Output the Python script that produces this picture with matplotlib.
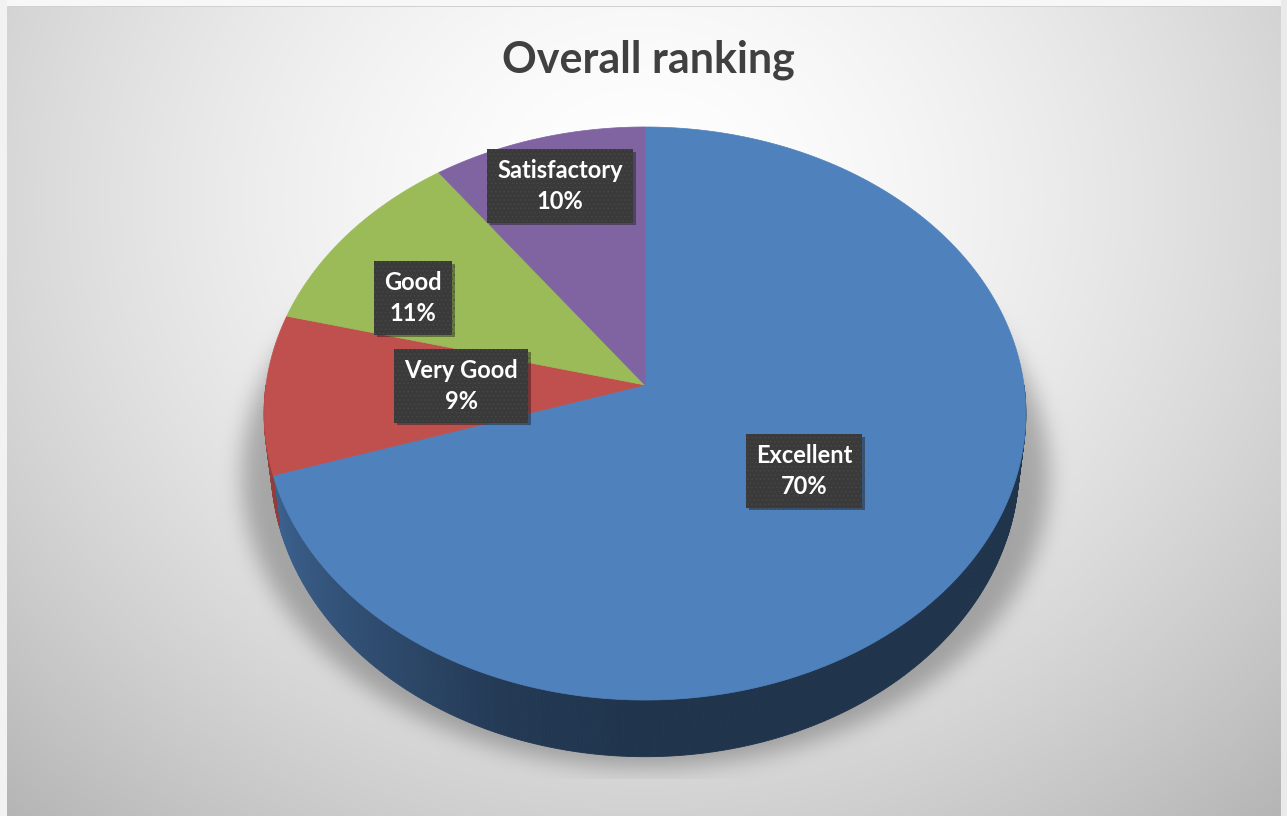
import numpy as np
import matplotlib
matplotlib.use("Agg")
import matplotlib.pyplot as plt
import matplotlib.patheffects as pe
from matplotlib.path import Path
from matplotlib.patches import Polygon

# data
categories = ["Excellent", "Very Good", "Good", "Satisfactory"]
values = [70, 9, 11, 10]
colors = ["#4f81bd", "#c0504d", "#9bbb59", "#8064a2"]
title = "Overall ranking"

# label box centres (pixels)
label_xy = [(804, 471), (461, 386), (413, 298), (560, 186)]

W, H = 1287, 816
cx, cy = 645, 385       # pie apex in pixels
S, Sy = 379, 283.7      # radii of the tilted disc
q = 10.05               # perspective strength
depth = 51              # thickness of the pie
shrink = 0.982          # bottom face is a little farther away


def proj(r, theta, drop=0.0, sc=1.0):
    t = np.radians(theta)
    x = r * np.sin(t)
    z = r * np.cos(t)
    w = 1 + z / q
    return cx + sc * S * x / w, cy - Sy * z / w + drop / w


plt.rcParams["hatch.linewidth"] = 0.5

fig = plt.figure(figsize=(W / 100, H / 100), dpi=100)
ax = fig.add_axes([0, 0, 1, 1])
ax.set_xlim(0, W)
ax.set_ylim(H, 0)
ax.axis("off")

# background: radial grey gradient
yy, xx = np.mgrid[0:H, 0:W]
r = np.sqrt(((xx - 643) / 720.0) ** 2 + ((yy - 200) / 640.0) ** 2)
bg = 1 - 0.19 * np.clip(r, 0, 2) ** 1.6

# soft shadow under the pie
th = np.linspace(0, 360, 361)
sx, sy = proj(1, th, depth)
sx = cx + (sx - cx) * 1.06
sy = sy + 10
mask = Path(np.column_stack([sx, sy])).contains_points(
    np.column_stack([xx.ravel(), yy.ravel()])).reshape(H, W).astype(float)


def box_blur(a, k, axis):
    pad = [(k + 1, k), (0, 0)] if axis == 0 else [(0, 0), (k + 1, k)]
    c = np.cumsum(np.pad(a, pad, mode="edge"), axis=axis)
    if axis == 0:
        return (c[2 * k + 1:] - c[:-2 * k - 1]) / (2 * k + 1)
    return (c[:, 2 * k + 1:] - c[:, :-2 * k - 1]) / (2 * k + 1)


for _ in range(3):
    mask = box_blur(mask, 10, 0)
    mask = box_blur(mask, 10, 1)
mask[yy > 778] = 0
bg = bg * (1 - 0.27 * mask)

# frame
bg[:6, :] = 0.97
bg[6, :] = 0.82
bg[:, :7] = 0.95
bg[:, 1281:] = 0.92
img = np.dstack([bg, bg, bg])
ax.imshow(img, extent=(0, W, H, 0), aspect="auto", interpolation="bilinear", zorder=0)

# slice angles, clockwise from 12 o'clock
fr = np.array(values, dtype=float) / sum(values)
edges = np.concatenate([[0], np.cumsum(fr) * 360])

# side of the pie (front half only)
shade_t = [90, 180, 200, 220, 250, 270]
shade_f = [0.40, 0.40, 0.45, 0.58, 0.75, 0.80]
for i, col in enumerate(colors):
    a0, a1 = max(edges[i], 90), min(edges[i + 1], 270)
    if a1 <= a0:
        continue
    base = np.array(matplotlib.colors.to_rgb(col))
    steps = np.linspace(a0, a1, int((a1 - a0) * 2) + 2)
    for t0, t1 in zip(steps[:-1], steps[1:]):
        f = np.interp((t0 + t1) / 2, shade_t, shade_f)
        x0, y0 = proj(1, t0)
        x1, y1 = proj(1, t1)
        x2, y2 = proj(1, t1, depth, shrink)
        x3, y3 = proj(1, t0, depth, shrink)
        ax.add_patch(Polygon([[x0, y0], [x1, y1], [x2, y2], [x3, y3]], closed=True,
                             fc=base * f, ec=base * f, lw=0.6, zorder=2))

# top face
for i, col in enumerate(colors):
    t = np.linspace(edges[i], edges[i + 1], 200)
    px, py = proj(1, t)
    pts = np.column_stack([np.r_[cx, px], np.r_[cy, py]])
    ax.add_patch(Polygon(pts, closed=True, fc=col, ec=col, lw=0.5, zorder=3))

# data labels
for name, v, (lx, ly) in zip(categories, values, label_xy):
    txt = ax.text(lx, ly, f"{name}\n{v}%", ha="center", va="center", color="white",
                  fontsize=17, fontweight="bold", family=["Lato", "DejaVu Sans"],
                  linespacing=1.4, zorder=5,
                  bbox=dict(boxstyle="square,pad=0.42", fc="#3a3a3a", ec="#484848",
                            lw=0, hatch="...."))
    txt.get_bbox_patch().set_path_effects(
        [pe.SimplePatchShadow(offset=(2, -2), shadow_rgbFace="k", alpha=0.35), pe.Normal()])

ax.text(648, 60, title, ha="center", va="center", fontsize=31, fontweight="bold",
        color="#404040", family=["Lato", "DejaVu Sans"], zorder=5)

fig.savefig("out.png", dpi=100)
